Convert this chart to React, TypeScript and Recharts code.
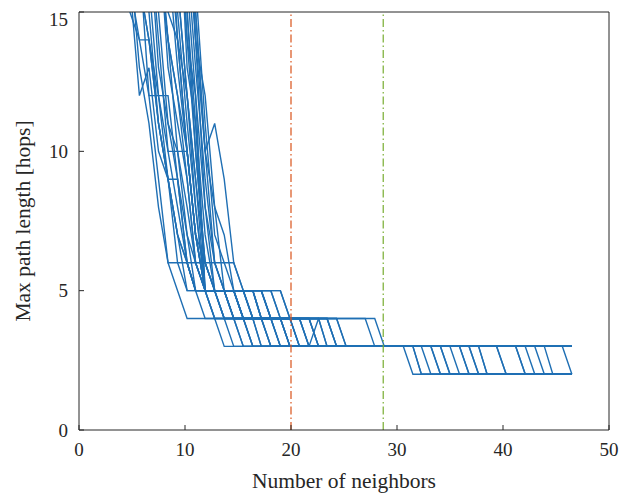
import React from 'react';
import { LineChart, Line, XAxis, YAxis, ReferenceLine } from 'recharts';

// mean neighbour count at each radio-range step (shared by all runs)
const NEIGHBORS = [
  4.8, 5.7, 6.6, 7.5, 8.4, 9.3, 10.2, 11.0, 11.9, 12.8, 13.7, 14.6, 15.5, 16.4, 17.2, 18.1,
  19.0, 19.9, 20.8, 21.7, 22.6, 23.4, 24.3, 25.2, 26.1, 27.0, 27.9, 28.8, 29.7, 30.6, 31.5, 32.3,
  33.2, 34.1, 35.0, 35.9, 36.8, 37.7, 38.5, 39.4, 40.3, 41.2, 42.1, 43.0, 43.9, 44.7, 45.6, 46.5,
];

// max hop count for each random topology, as [range step, hops] corner points
const RUNS: number[][][] = [
  [[0, 19], [1, 16], [2, 14], [3, 12], [4, 10], [5, 8], [6, 6], [7, 5], [9, 5], [10, 4], [13, 4], [14, 3], [29, 3], [30, 2], [47, 2]],
  [[3, 22], [4, 17], [5, 13], [6, 10], [7, 7], [8, 5], [11, 5], [12, 4], [16, 4], [17, 3], [33, 3], [34, 2], [47, 2]],
  [[1, 20], [2, 16], [3, 12], [4, 12], [5, 9], [6, 6], [7, 6], [8, 5], [12, 5], [13, 4], [19, 4], [20, 3], [47, 3]],
  [[4, 21], [5, 16], [6, 12], [7, 9], [8, 6], [9, 5], [10, 5], [11, 4], [15, 4], [16, 3], [36, 3], [37, 2], [47, 2]],
  [[0, 16], [1, 14], [2, 14], [3, 11], [4, 9], [5, 7], [6, 5], [8, 5], [9, 4], [11, 4], [12, 3], [47, 3]],
  [[0, 17], [1, 13], [2, 11], [3, 8], [4, 6], [5, 5], [6, 4], [9, 4], [10, 3], [30, 3], [31, 2], [47, 2]],
  [[5, 24], [6, 17], [7, 13], [8, 9], [9, 6], [10, 5], [14, 5], [15, 4], [21, 4], [22, 3], [47, 3]],
  [[3, 19], [4, 15], [5, 14], [6, 10], [7, 7], [8, 6], [9, 5], [13, 5], [14, 4], [18, 4], [19, 3], [39, 3], [40, 2], [47, 2]],
  [[5, 20], [6, 18], [7, 14], [8, 8], [9, 6], [10, 6], [11, 5], [15, 5], [16, 4], [20, 4], [21, 3], [41, 3], [42, 2], [47, 2]],
  [[2, 18], [3, 14], [4, 10], [6, 10], [7, 7], [8, 5], [10, 5], [11, 4], [14, 4], [15, 3], [32, 3], [33, 2], [47, 2]],
  [[4, 20], [5, 14], [6, 12], [7, 8], [8, 5], [12, 5], [13, 4], [17, 4], [18, 3], [47, 3]],
  [[6, 22], [7, 16], [8, 11], [9, 7], [10, 6], [11, 6], [12, 5], [16, 5], [17, 4], [25, 4], [26, 3], [47, 3]],
  [[1, 17], [2, 12], [3, 12], [4, 9], [5, 7], [6, 6], [7, 5], [8, 4], [10, 4], [11, 3], [31, 3], [32, 2], [47, 2]],
  [[4, 19], [5, 15], [6, 11], [7, 8], [8, 5], [11, 5], [12, 4], [15, 4], [16, 3], [35, 3], [36, 2], [47, 2]],
  [[3, 18], [4, 13], [5, 11], [6, 9], [7, 6], [8, 5], [10, 5], [11, 4], [16, 4], [17, 3], [47, 3]],
  [[5, 26], [6, 17], [7, 15], [8, 10], [9, 11], [10, 9], [11, 6], [12, 5], [14, 5], [15, 4], [19, 4], [20, 3], [43, 3], [44, 2], [47, 2]],
  [[2, 18], [3, 15], [4, 11], [5, 9], [6, 6], [7, 5], [10, 5], [11, 4], [13, 4], [14, 3], [34, 3], [35, 2], [47, 2]],
  [[5, 19], [6, 14], [7, 10], [8, 6], [9, 5], [11, 5], [12, 4], [17, 4], [18, 3], [19, 3], [20, 4], [21, 4], [22, 3], [47, 3]],
  [[1, 16], [2, 14], [3, 11], [4, 9], [5, 7], [6, 6], [7, 5], [9, 5], [10, 4], [12, 4], [13, 3], [33, 3], [34, 2], [47, 2]],
  [[6, 21], [7, 15], [8, 10], [9, 8], [10, 7], [11, 5], [13, 5], [14, 4], [22, 4], [23, 3], [47, 3]],
  [[4, 18], [5, 14], [6, 10], [7, 7], [8, 5], [9, 5], [10, 4], [15, 4], [16, 3], [37, 3], [38, 2], [47, 2]],
  [[5, 20], [6, 15], [7, 10], [8, 6], [9, 6], [10, 5], [14, 5], [15, 4], [18, 4], [19, 3], [46, 3], [47, 2]],
  [[3, 17], [4, 14], [5, 12], [6, 10], [7, 7], [8, 5], [11, 5], [12, 4], [16, 4], [17, 3], [37, 3], [38, 2], [47, 2]],
  [[5, 22], [6, 16], [7, 12], [8, 8], [9, 5], [12, 5], [13, 4], [14, 4], [15, 3], [36, 3], [37, 2], [47, 2]],
  [[0, 15], [1, 14], [2, 12], [3, 9], [4, 6], [6, 6], [7, 5], [9, 5], [10, 4], [12, 4], [13, 3], [47, 3]],
  [[6, 19], [7, 14], [8, 10], [9, 6], [10, 5], [16, 5], [17, 4], [26, 4], [27, 3], [47, 3]],
  [[2, 18], [3, 13], [4, 11], [5, 10], [6, 7], [7, 6], [8, 5], [11, 5], [12, 4], [19, 4], [20, 3], [39, 3], [40, 2], [47, 2]],
  [[0, 16], [1, 12], [2, 13], [3, 10], [4, 9], [5, 6], [6, 5], [8, 5], [9, 4], [14, 4], [15, 3], [42, 3], [43, 2], [47, 2]],
  [[5, 20], [6, 13], [7, 11], [8, 7], [9, 5], [13, 5], [14, 4], [21, 4], [22, 3], [47, 3]],
  [[3, 17], [4, 14], [5, 10], [6, 8], [7, 6], [8, 5], [10, 5], [11, 4], [12, 4], [13, 3], [32, 3], [33, 2], [47, 2]],
  [[4, 23], [5, 16], [6, 12], [7, 9], [8, 5], [12, 5], [13, 4], [17, 4], [18, 3], [41, 3], [42, 2], [47, 2]],
  [[5, 19], [6, 15], [7, 11], [8, 5], [14, 5], [15, 4], [20, 4], [21, 3], [47, 3]],
  [[1, 16], [2, 15], [3, 11], [4, 9], [5, 9], [6, 7], [7, 5], [8, 5], [9, 4], [11, 4], [12, 3], [30, 3], [31, 2], [47, 2]],
  [[6, 21], [7, 14], [8, 12], [9, 8], [10, 5], [15, 5], [16, 4], [18, 4], [19, 3], [44, 3], [45, 2], [47, 2]],
  [[3, 18], [4, 14], [5, 12], [6, 9], [7, 6], [8, 6], [9, 5], [11, 5], [12, 4], [16, 4], [17, 3], [35, 3], [36, 2], [47, 2]],
  [[5, 20], [6, 14], [7, 12], [8, 5], [13, 5], [14, 4], [22, 4], [23, 3], [47, 3]],
];

const X_TICKS = [0, 10, 20, 30, 40, 50];
const Y_TICKS = [0, 5, 10, 15];
// neighbour counts marked with vertical dash-dot lines
const MARK_RED = 20;
const MARK_GREEN = 28.7;

const series = RUNS.map(run => run.map(([step, hops]) => ({ neighbors: NEIGHBORS[step], hops })));

const INK = '#262626';
const SERIF = '"Liberation Serif", "Times New Roman", serif';
const tickFont = { fontFamily: SERIF, fontSize: 19, fill: INK };

const xTitle = ({ viewBox }: any) => (
  <text
    x={viewBox.x + viewBox.width / 2}
    y={viewBox.y + 58}
    textAnchor="middle"
    fontFamily={SERIF}
    fontSize={21.5}
    fill={INK}
  >
    Number of neighbors
  </text>
);

const yTitle = ({ viewBox }: any) => {
  const cx = viewBox.x + 15;
  const cy = viewBox.y + viewBox.height / 2;
  return (
    <text
      x={cx}
      y={cy}
      transform={`rotate(-90 ${cx} ${cy})`}
      textAnchor="middle"
      dominantBaseline="central"
      fontFamily={SERIF}
      fontSize={21.5}
      fill={INK}
    >
      Max path length [hops]
    </text>
  );
};

export default function App() {
  return (
    <LineChart width={616} height={488} margin={{ top: 3, right: 14, bottom: 8, left: 0 }}>
      <XAxis
        xAxisId="bottom"
        type="number"
        dataKey="neighbors"
        domain={[0, 50]}
        ticks={X_TICKS}
        height={58}
        stroke={INK}
        tickSize={-5}
        tickMargin={18}
        tick={tickFont}
        label={{ content: xTitle }}
      />
      <XAxis
        xAxisId="top"
        orientation="top"
        type="number"
        domain={[0, 50]}
        ticks={X_TICKS}
        height={1}
        stroke={INK}
        tickSize={-5}
        tick={false}
      />
      <YAxis
        yAxisId="left"
        type="number"
        domain={[0, 15]}
        ticks={Y_TICKS}
        allowDataOverflow
        width={71}
        stroke={INK}
        tickSize={-5}
        tickMargin={16}
        tick={tickFont}
        label={{ content: yTitle }}
      />
      <YAxis
        yAxisId="right"
        orientation="right"
        type="number"
        domain={[0, 15]}
        ticks={Y_TICKS}
        width={1}
        stroke={INK}
        tickSize={-5}
        tick={false}
      />
      {series.map((data, k) => (
        <Line
          key={k}
          xAxisId="bottom"
          yAxisId="left"
          data={data}
          dataKey="hops"
          type="linear"
          stroke="#1f6fb4"
          strokeWidth={1.4}
          dot={false}
          activeDot={false}
          isAnimationActive={false}
        />
      ))}
      <ReferenceLine
        xAxisId="bottom"
        yAxisId="left"
        x={MARK_RED}
        stroke="#d95319"
        strokeWidth={1.2}
        strokeDasharray="8 3 1.5 3"
      />
      <ReferenceLine
        xAxisId="bottom"
        yAxisId="left"
        x={MARK_GREEN}
        stroke="#77ac30"
        strokeWidth={1.2}
        strokeDasharray="8 3 1.5 3"
      />
    </LineChart>
  );
}
